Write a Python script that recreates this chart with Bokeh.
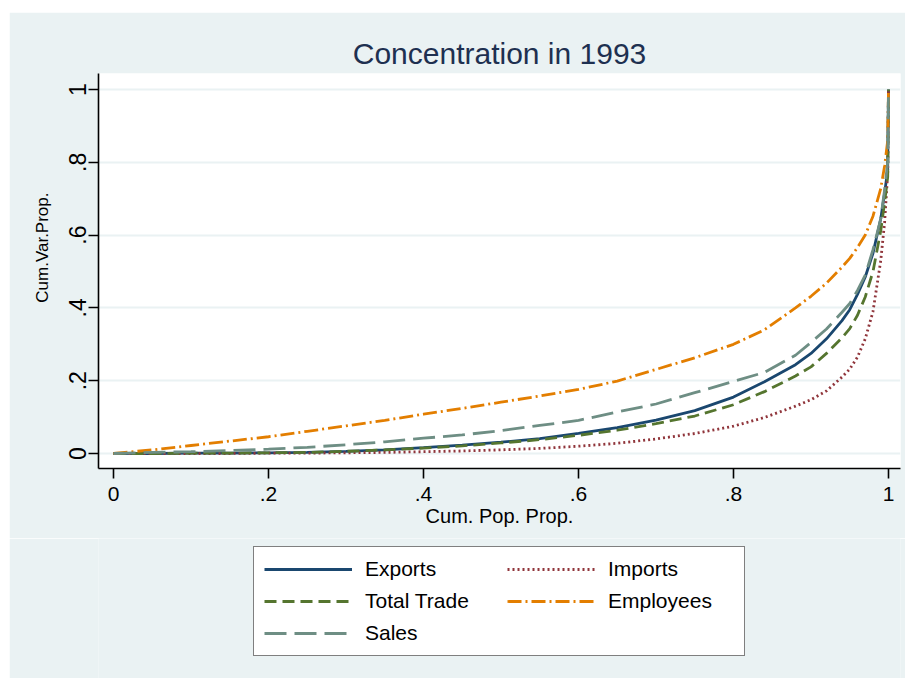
from bokeh.plotting import figure
from bokeh.models import Legend, LegendItem, FixedTicker, Range1d, Title
from bokeh.layouts import column
from bokeh.embed import file_html
from bokeh.resources import INLINE

# ---- data ----
pop = [0, 0.05, 0.1, 0.15, 0.2, 0.25, 0.3, 0.35, 0.4, 0.45, 0.5, 0.55, 0.6, 0.65,
       0.7, 0.75, 0.8, 0.84, 0.88, 0.9, 0.92, 0.94, 0.95, 0.96, 0.97, 0.98, 0.99,
       0.995, 0.999, 1.0]
exports = [0, 0.0, 0.001, 0.001, 0.002, 0.003, 0.006, 0.010, 0.016, 0.023, 0.031, 0.041,
           0.055, 0.071, 0.092, 0.118, 0.155, 0.197, 0.244, 0.275, 0.315, 0.365, 0.395,
           0.437, 0.485, 0.550, 0.645, 0.715, 0.78, 1.0]
imports = [0, 0, 0, 0, 0.001, 0.001, 0.002, 0.003, 0.005, 0.007, 0.010, 0.014, 0.020,
           0.028, 0.040, 0.055, 0.075, 0.099, 0.130, 0.148, 0.172, 0.210, 0.232, 0.265,
           0.315, 0.390, 0.530, 0.635, 0.77, 1.0]
total_trade = [0, 0, 0.001, 0.001, 0.002, 0.003, 0.006, 0.010, 0.015, 0.021, 0.029, 0.038,
               0.050, 0.064, 0.082, 0.103, 0.134, 0.170, 0.213, 0.238, 0.275, 0.318, 0.343,
               0.380, 0.430, 0.500, 0.612, 0.690, 0.76, 1.0]
employees = [0, 0.010, 0.022, 0.034, 0.046, 0.061, 0.076, 0.091, 0.108, 0.124, 0.141, 0.158,
             0.176, 0.199, 0.231, 0.263, 0.300, 0.340, 0.400, 0.432, 0.468, 0.512, 0.536,
             0.566, 0.600, 0.652, 0.728, 0.790, 0.86, 1.0]
sales = [0, 0.003, 0.005, 0.008, 0.012, 0.017, 0.024, 0.032, 0.042, 0.051, 0.063, 0.077,
         0.091, 0.114, 0.136, 0.167, 0.198, 0.223, 0.270, 0.305, 0.342, 0.388, 0.412,
         0.448, 0.490, 0.560, 0.645, 0.725, 0.80, 1.0]

series_names = ["Exports", "Imports", "Total Trade", "Employees", "Sales"]
tick_values = [0, 0.2, 0.4, 0.6, 0.8, 1]
tick_labels = ["0", ".2", ".4", ".6", ".8", "1"]

colors = ["#1a476f", "#90353b", "#55752f", "#e37e00", "#6e8e84"]
dashes = ["solid", "2 3", "12 6", "14 4 2 4", "22 8"]

BG = "#EAF2F3"
FONT = "Liberation Sans"
LW = 2.8
NAN = float("nan")

# ---------------- main plot ----------------
p = figure(width=896, height=526, output_backend="svg", toolbar_location=None,
           x_range=Range1d(-0.0194, 1.0155), y_range=Range1d(-0.0412, 1.044),
           min_border_left=89, min_border_right=5, min_border_top=61,
           min_border_bottom=70)
p.margin = (12, 0, 0, 9)
p.background_fill_color = "white"
p.border_fill_color = BG
p.outline_line_color = None

p.title.text = "Concentration in 1993"
p.title.align = "center"
p.title.text_font = FONT
p.title.text_font_size = "30px"
p.title.text_font_style = "normal"
p.title.text_color = "#1e3050"
p.title.standoff = 8

for ax in (p.xaxis[0], p.yaxis[0]):
    ax.ticker = FixedTicker(ticks=tick_values)
    ax.major_label_overrides = dict(zip(tick_values, tick_labels))
    ax.major_tick_out = 10
    ax.major_tick_in = 0
    ax.minor_tick_out = 0
    ax.minor_tick_in = 0
    ax.axis_line_color = "black"
    ax.axis_line_width = 1.6
    ax.major_tick_line_color = "black"
    ax.major_tick_line_width = 1.6
    ax.major_label_text_font = FONT
    ax.major_label_text_color = "black"

p.xaxis.major_label_text_font_size = "21px"
p.xaxis.major_label_standoff = 8
p.xaxis.axis_label = "Cum. Pop. Prop."
p.xaxis.axis_label_text_font = FONT
p.xaxis.axis_label_text_font_size = "20px"
p.xaxis.axis_label_text_font_style = "normal"
p.xaxis.axis_label_text_color = "black"
p.xaxis.axis_label_standoff = 1

p.yaxis.major_label_orientation = "vertical"
p.yaxis.major_label_text_font_size = "23px"
p.yaxis.major_label_standoff = 2

ytitle = Title(text="Cum.Var.Prop.", align="right", offset=119,
               text_font=FONT, text_font_size="17px", text_font_style="normal",
               text_color="black", standoff=30)
p.add_layout(ytitle, "left")

p.xgrid.visible = False
p.ygrid.grid_line_color = BG
p.ygrid.grid_line_width = 2
p.ygrid.ticker = FixedTicker(ticks=tick_values)

ys = [exports, imports, total_trade, employees, sales]
for name, y, c, d in zip(series_names, ys, colors, dashes):
    p.line(pop, y, line_color=c, line_width=LW, line_dash=d)

# ---------------- legend strip below the plot ----------------
q = figure(width=896, height=140, output_backend="svg", toolbar_location=None,
           x_range=Range1d(0, 1), y_range=Range1d(0, 1),
           min_border_left=0, min_border_right=0, min_border_top=0,
           min_border_bottom=0, x_axis_location=None, y_axis_location=None)
q.margin = (0, 0, 0, 9)
q.background_fill_color = BG
q.border_fill_color = BG
q.outline_line_color = None
q.xgrid.visible = False
q.ygrid.visible = False

items = []
for name, c, d in zip(series_names, colors, dashes):
    r = q.line([NAN], [NAN], line_color=c, line_width=LW, line_dash=d)
    items.append(LegendItem(label=name, renderers=[r]))

common = dict(orientation="vertical", label_text_font=FONT, label_text_font_size="21px",
              label_text_color="black", glyph_width=88, glyph_height=24,
              label_standoff=13, spacing=8, padding=10, margin=0)
leg_a = Legend(items=[items[0], items[2], items[4]], location=(155, 22),
               label_width=369, border_line_color="black", border_line_width=1,
               background_fill_color="white", background_fill_alpha=1.0, **common)
leg_b = Legend(items=[items[1], items[3]], location=(409, 65),
               border_line_color=None, background_fill_alpha=0.0, **common)
q.add_layout(leg_a, "center")
q.add_layout(leg_b, "center")

layout = column(p, q, spacing=0)
open("out.html", "w").write(file_html(layout, INLINE))
